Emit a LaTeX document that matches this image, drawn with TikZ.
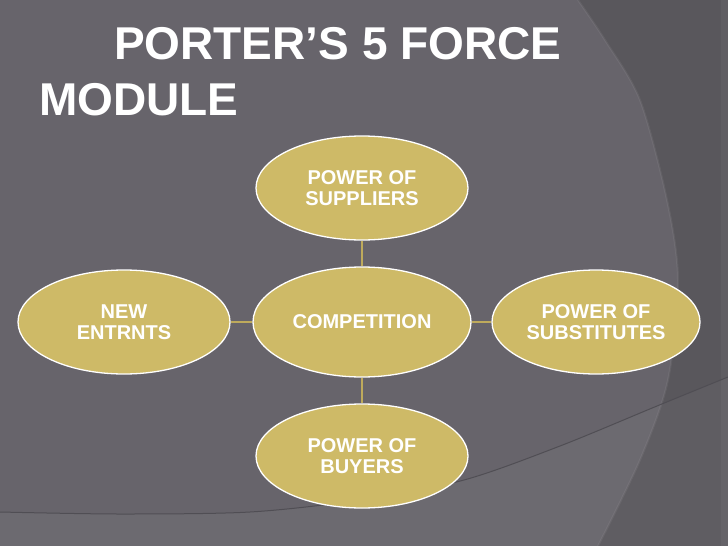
\documentclass[tikz,border=0pt]{standalone}
\usepackage{fontspec}
\setmainfont{Liberation Sans}
\usetikzlibrary{shapes.geometric}

\definecolor{slidegray}{RGB}{103,100,107}
\definecolor{stripgray}{RGB}{89,87,92}
\definecolor{seamgray}{RGB}{80,78,84}
\definecolor{forcegold}{RGB}{206,186,103}
\definecolor{linkgold}{RGB}{190,170,92}

\tikzset{
  force/.style={ellipse, draw=white, line width=1.3pt, fill=forcegold, text=white,
    inner sep=0pt, minimum width=212pt, minimum height=104pt, align=center,
    font=\fontsize{20}{21}\selectfont\bfseries},
  link/.style={linkgold, line width=1.4pt},
  headline/.style={anchor=base west, text=white, inner sep=0pt,
    font=\fontsize{46}{56}\selectfont\bfseries}
}

\begin{document}
\begin{tikzpicture}[x=1pt, y=-1pt]
            \useasboundingbox (0,0) rectangle (728,546);
            \fill[slidegray] (0,0) rectangle (728,546);
            \fill[stripgray] plot[smooth] coordinates {(578,0) (605,40) (640,100) (667,200) (678,280) (668,380) (640,460) (598,546)}
                -- (728,546) -- (728,0) -- cycle;
            \draw[white, opacity=0.06, line width=2pt] plot[smooth] coordinates {(578,0) (605,40) (640,100) (667,200) (678,280) (668,380) (640,460) (598,546)};
            \fill[white, opacity=0.04] (721,0) rectangle (728,546);
            \fill[white, opacity=0.04] plot[smooth] coordinates {(0,512) (120,514) (250,512) (360,500) (464,480) (560,446) (657,406) (728,377)}
                -- (728,546) -- (0,546) -- cycle;
            \draw[seamgray, line width=1pt] plot[smooth] coordinates {(0,512) (120,514) (250,512) (360,500) (464,480) (560,446) (657,406) (728,377)};

            \node[headline] (titlea) at (114,59) {PORTER’S 5 FORCE};
            \node[headline] (titleb) at (39,115) {MODULE};

            \node[force] (sup) at (362,188) {POWER OF\\SUPPLIERS};
            \node[force, minimum width=218pt, minimum height=110pt] (comp) at (362,322) {COMPETITION};
            \node[force] (ent) at (124,322) {NEW\\ENTRNTS};
            \node[force, minimum width=208pt] (subst) at (596,322) {POWER OF\\SUBSTITUTES};
            \node[force] (buy) at (362,456) {POWER OF\\BUYERS};

            \draw[link] (sup) -- (comp);
            \draw[link] (ent) -- (comp);
            \draw[link] (comp) -- (subst);
            \draw[link] (comp) -- (buy);
        \end{tikzpicture}
\end{document}
